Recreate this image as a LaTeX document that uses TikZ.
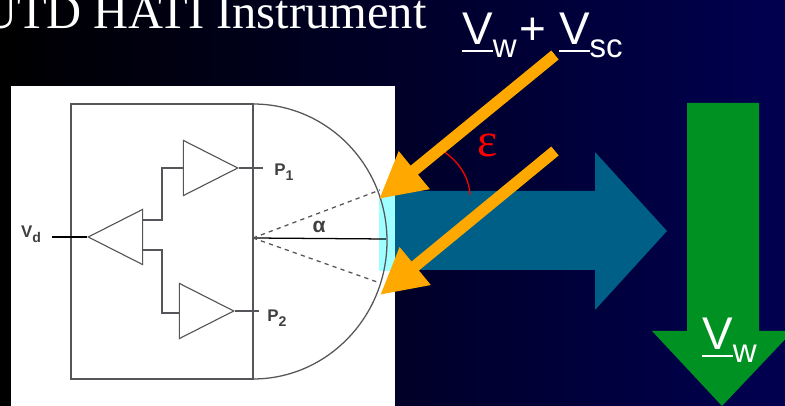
\documentclass[tikz,border=0pt]{standalone}
\usepackage{fontspec}
\setmainfont{Liberation Serif}
\setsansfont{Liberation Sans}
\usetikzlibrary{arrows.meta, shapes.geometric}
\definecolor{SkyNavy}{RGB}{0,0,80}
\definecolor{SkyMid}{RGB}{0,0,60}
\definecolor{FlowBlue}{RGB}{0,95,135}
\definecolor{FlowCyan}{RGB}{160,255,255}
\definecolor{WindGreen}{RGB}{0,145,35}
\definecolor{RayOrange}{RGB}{255,168,0}
\definecolor{SketchGray}{RGB}{85,85,90}
\newcommand{\ulV}{\leavevmode\rlap{\rule[-5pt]{.667em}{1.4pt}}V}
\newcommand{\lowsub}[1]{\raisebox{-9pt}{\fontsize{23.5}{24}\selectfont #1}}
\newcommand{\tinysub}[1]{\raisebox{-3.5pt}{\fontsize{10}{10}\selectfont #1}}

\begin{document}
\begin{tikzpicture}[x=0.025cm, y=-0.025cm,
	amp/.style={isosceles triangle, isosceles triangle apex angle=53, isosceles triangle stretches,
		draw=SketchGray, line width=0.8pt, inner sep=0pt, minimum width=1.38cm, minimum height=1.36cm},
	wire/.style={draw=SketchGray, line width=0.9pt},
	ray/.style={-{Triangle[length=1.14cm, width=1.14cm]}, line width=0.29cm, RayOrange},
	lbl/.style={inner sep=0pt, font=\sffamily\bfseries\fontsize{12}{12}\selectfont, text=black!75},
	speed/.style={inner sep=0pt, anchor=base west, text=white, font=\sffamily\fontsize{32.6}{33}\selectfont}]
	\path[use as bounding box, clip] (0,0) rectangle (785,406);
	\shade[left color=black, middle color=SkyMid, right color=SkyNavy] (0,0) rectangle (785,406);
	\node[inner sep=0pt, anchor=base east, text=white, font=\fontsize{34.5}{35}\selectfont] (title) at (427,29) {UTD HATI Instrument};
	% instrument
	\fill[white] (11,86) rectangle (395,406);
	\fill[FlowCyan] (379,196) rectangle (395,271);
	\draw[wire] (71,104) rectangle (253,379);
	\coordinate (domeTop) at (253,104); \coordinate (domeBot) at (253,379);
	\draw[wire] (domeTop) .. controls (327,104) and (387,165) .. (387,241) .. controls (387,317) and (327,379) .. (domeBot);
	\draw[wire] (domeTop)--(domeBot);
	\node[amp, anchor=apex] (ampP) at (239,168) {};
	\node[amp, anchor=apex] (ampQ) at (235,311) {};
	\node[amp, anchor=apex, shape border rotate=180] (ampD) at (87,237) {};
	\coordinate (tapP) at (143,220); \coordinate (tapQ) at (143,250);
	\coordinate (pinP) at (263,168); \coordinate (pinQ) at (259,311); \coordinate (pinD) at (52,237);
	\coordinate (inP) at (183,168); \coordinate (inQ) at (180,313);
	\draw[wire] (tapP)-|(162,168)--(inP);
	\draw[wire] (tapQ)-|(162,313)--(inQ);
	\draw[wire] (ampP.apex)--(pinP); \draw[wire] (ampQ.apex)--(pinQ);
	\draw[wire, black] (pinD)--(ampD.apex);
	\node[lbl] (lblP) at (284,172) {P\tinysub{1}};
	\node[lbl] (lblQ) at (277,318) {P\tinysub{2}};
	\node[lbl] (lblD) at (31,234) {V\tinysub{d}};
	% field of view
	\coordinate (origin) at (253,238); \coordinate (axisEnd) at (386,239);
	\coordinate (fovTop) at (380,190); \coordinate (fovBot) at (380,283);
	\draw[black, line width=0.9pt] (origin)--(axisEnd);
	\draw[wire, dashed] (origin)--(fovTop); \draw[wire, dashed] (origin)--(fovBot);
	\node[lbl, font=\sffamily\bfseries\fontsize{15}{15}\selectfont] (lblAlpha) at (319,227) {α};
	% flow
	\fill[FlowBlue] (395,191)--(595,191)--(595,152)--(667,231)--(595,310)--(595,270)--(395,270)--cycle;
	\fill[WindGreen] (687,103)--(759,103)--(759,331)--(793,331)--(722,406)--(652,331)--(687,331)--cycle;
	% rays
	\coordinate (rayA) at (555,55); \coordinate (tipA) at (379,199);
	\coordinate (rayB) at (555,151); \coordinate (tipB) at (380,295);
	\draw[red, line width=0.9pt] (443,151) .. controls (458,161) and (469,176) .. (470,195);
	\draw[ray] (rayA)--(tipA);
	\draw[ray] (rayB)--(tipB);
	\node[inner sep=0pt, text=red, font=\fontsize{34}{34}\selectfont] (lblEps) at (488,145) {ε};
	\node[speed] (lblSum) at (462,45) {\ulV\lowsub{w}\kern2pt+ \ulV\lowsub{sc}};
	\node[speed] (lblWind) at (702,350) {\ulV\lowsub{w}};
\end{tikzpicture}
\end{document}
